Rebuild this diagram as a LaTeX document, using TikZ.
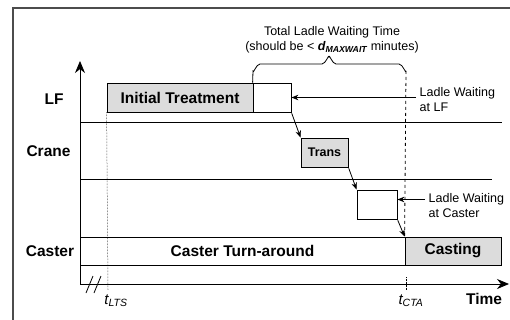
\documentclass[tikz,border=0pt]{standalone}
\usepackage{fontspec}
\setmainfont{Liberation Sans}
\usepackage{xcolor}
\usepackage{tikz}
\usetikzlibrary{arrows.meta}

\definecolor{boxgray}{RGB}{220,220,220}

\begin{document}
\begin{tikzpicture}[x=1pt, y=-1pt, line width=0.8pt,
    bigtxt/.style={font=\fontsize{15.5}{18}\selectfont\bfseries},
    smalltxt/.style={font=\fontsize{12.5}{15}\selectfont},
    taskbox/.style={draw, inner sep=0pt, minimum height=29pt},
    tip/.style={-{Stealth[length=7pt,width=5.5pt]}},
    axistip/.style={-{Stealth[length=12pt,width=10pt]}}]
                    \useasboundingbox (0,0) rectangle (510,320);
                    \draw[line width=1.3pt, black!70] (13,8) rectangle (516,330);

                    \coordinate (orig) at (80,284);
                    \coordinate (ytop) at (80,61);
                    \coordinate (xend) at (509,284);
                    \draw[axistip] (orig) -- (ytop);
                    \draw[axistip] (orig) -- (xend);
                    \foreach \x in {0,8}
                        \draw (86+\x,293) -- (93+\x,276);

                    \draw (80,122) -- (502,122);
                    \draw (80,179.5) -- (492,179.5);

                    \node[taskbox, fill=boxgray, minimum width=146pt, bigtxt] (init) at (180,97.5) {Initial Treatment};
                    \node[taskbox, minimum width=38pt] (lfwait) at (272,97.5) {};
                    \node[taskbox, fill=boxgray, minimum width=47pt, font=\fontsize{12.5}{15}\selectfont\bfseries] (trans) at (324.5,152.5) {Trans};
                    \node[taskbox, minimum width=40pt] (cwait) at (377,204.5) {};
                    \node[taskbox, minimum height=28pt, minimum width=325pt, bigtxt] (turn) at (242.5,251) {Caster Turn-around};
                    \node[taskbox, minimum height=28pt, fill=boxgray, minimum width=96pt, bigtxt] (casting) at (453,251) {Casting};

                    \node[bigtxt] (lf) at (54,99) {LF};
                    \node[bigtxt] (crane) at (48.5,151) {Crane};
                    \node[bigtxt] (caster) at (50,251) {Caster};
                    \node[bigtxt] (time) at (484,299) {Time};

                    \node[font=\fontsize{15}{17}\selectfont] (tlts) at (116,301) {\itshape t\textsubscript{LTS}};
                    \node[font=\fontsize{15}{17}\selectfont] (tcta) at (411,301) {\itshape t\textsubscript{CTA}};
                    \draw[densely dotted, line width=0.5pt] (init.south west) -- (108,290);
                    \draw[densely dotted, line width=0.5pt] (406,277) -- (406,290);

                    \node[smalltxt, align=center] (waitlbl) at (332,39.5) {Total Ladle Waiting Time\\(should be < {\bfseries\itshape d\textsubscript{MAXWAIT}} minutes)};
                    \draw (lfwait.north west) -- (253,71) to[out=-90,in=180] (260,64) -- (322,64)
                        to[out=0,in=90] (329,57) to[out=90,in=180] (336,64) -- (399,64) to[out=0,in=-90] (406,71);
                    \draw[dashed] (406,71) -- (casting.north west);

                    \node[smalltxt, align=left, anchor=west] (lflbl) at (416,100) {Ladle Waiting\\at LF};
                    \node[smalltxt, align=left, anchor=west] (cwlbl) at (425,206) {Ladle Waiting\\at Caster};
                    \draw[tip] (lflbl.west |- lfwait.east) -- (lfwait.east);
                    \draw[tip] ([yshift=5pt]cwlbl.west |- cwait.east) -- ([yshift=5pt]cwait.east);

                    \draw[tip, shorten <=1pt] (lfwait.south east) -- (trans.north west);
                    \draw[tip, shorten <=1pt] (trans.south east) -- (cwait.north west);
                    \draw[tip, shorten <=1pt] (cwait.south east) -- (casting.north west);
                \end{tikzpicture}
\end{document}
